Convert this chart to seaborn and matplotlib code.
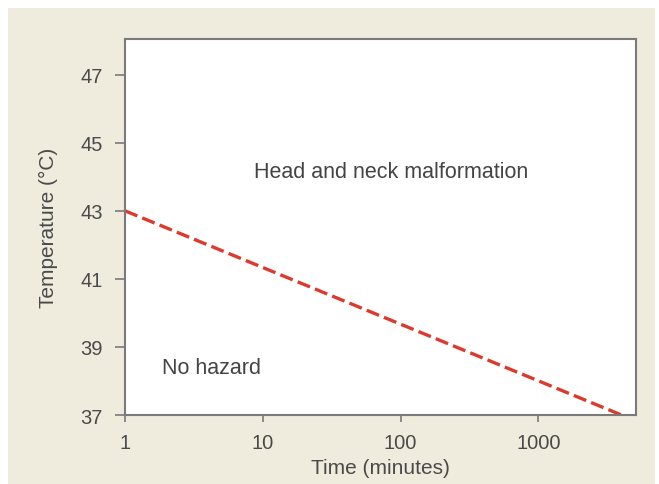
import numpy as np
import pandas as pd
import matplotlib
matplotlib.use("Agg")
import matplotlib.pyplot as plt
import seaborn as sns
from matplotlib.patches import Rectangle

# Data
time_minutes = [1, 4000]
temperature_c = [43, 37]
x_ticks = [1, 10, 100, 1000]
x_tick_labels = ["1", "10", "100", "1000"]
y_ticks = [37, 39, 41, 43, 45, 47]
y_tick_labels = ["37", "39", "41", "43", "45", "47"]

sns.set_theme(style="ticks")
plt.rcParams['font.family'] = ['Liberation Sans', 'DejaVu Sans']

W, H = 659, 485
fig = plt.figure(figsize=(W / 100, H / 100), dpi=100, facecolor="white")
fig.patches.append(Rectangle((8 / W, 0), (655 - 8) / W, (H - 9) / H,
                             transform=fig.transFigure, facecolor="#efebdd",
                             edgecolor="none", zorder=-10))

ax = fig.add_axes([125 / W, (H - 416) / H, (636 - 125) / W, (416 - 40) / H])
ax.set_facecolor("white")

df = pd.DataFrame({"time": time_minutes, "temp": temperature_c})
sns.lineplot(data=df, x="time", y="temp", ax=ax, color="#db3a2c",
             linewidth=2.4, linestyle=(0, (4, 1.6)))

ax.set_xscale("log")
ax.set_xlim(1, 5100)
ax.set_ylim(37, 48.05)
ax.set_xticks(x_ticks)
ax.set_xticklabels(x_tick_labels)
ax.set_yticks(y_ticks)
ax.set_yticklabels(y_tick_labels)
ax.xaxis.set_minor_locator(matplotlib.ticker.NullLocator())

for s in ax.spines.values():
    s.set_color("#7a7a7a")
    s.set_linewidth(1.5)
    s.set_visible(True)

ax.tick_params(axis="both", which="major", direction="out", width=1.2,
               color="#7a7a7a", labelsize=14.5, labelcolor="#4a4a4a",
               bottom=True, left=True, top=False, right=False)
ax.tick_params(axis="y", length=7, pad=9)
ax.tick_params(axis="x", length=5, pad=8)

ax.set_xlabel("Time (minutes)", fontsize=15, color="#4a4a4a", labelpad=4)
ax.set_ylabel("Temperature (°C)", fontsize=15, color="#4a4a4a", labelpad=16)

ax.text(85, 44.15, "Head and neck malformation", ha="center", va="center",
        fontsize=15.5, color="#444444")
ax.text(1.85, 38.4, "No hazard", ha="left", va="center",
        fontsize=15.5, color="#444444")

fig.savefig("out.png", dpi=100, facecolor=fig.get_facecolor())
